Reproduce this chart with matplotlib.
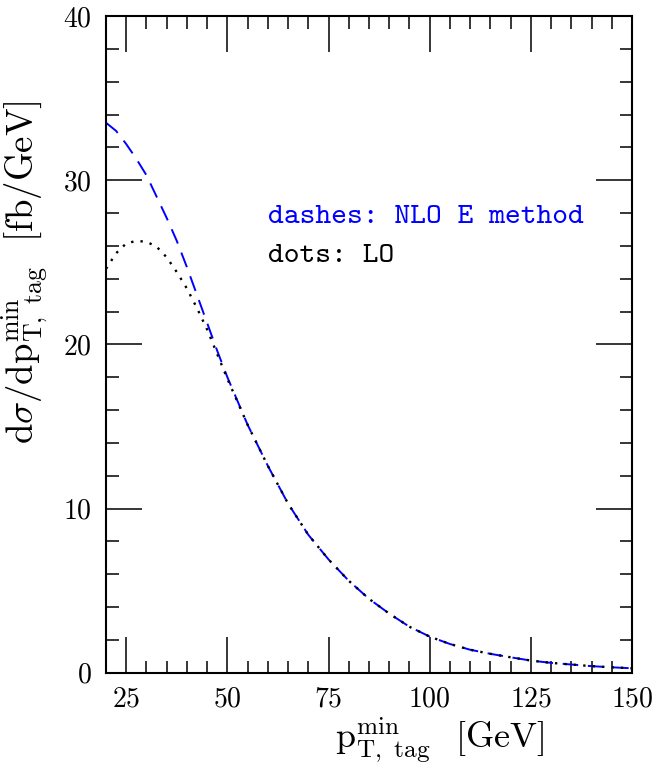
import numpy as np
import matplotlib
matplotlib.use('Agg')
import matplotlib.pyplot as plt
from matplotlib.ticker import MultipleLocator

plt.rcParams['font.family'] = 'cmr10'
plt.rcParams['mathtext.fontset'] = 'cm'
plt.rcParams['axes.formatter.use_mathtext'] = True

# values
pt_nlo = [20, 22.5, 25, 27.5, 30, 32.5, 35, 37.5, 40, 42.5, 45, 47.5, 50,
          55, 60, 65, 70, 75, 80, 85, 90, 95, 100, 105, 110, 115, 120, 125,
          130, 135, 140, 145, 150]
nlo = [33.5, 33.0, 32.2, 31.3, 30.3, 29.0, 27.7, 26.3, 24.7, 23.0, 21.3, 19.6,
       18.0, 15.1, 12.6, 10.3, 8.4, 6.9, 5.6, 4.5, 3.6, 2.8, 2.2, 1.75, 1.4,
       1.15, 0.94, 0.74, 0.6, 0.5, 0.4, 0.33, 0.27]

pt_lo = [20, 22.5, 25, 27.5, 30, 32.5, 35, 37.5, 40, 42.5, 45, 47.5, 50,
         55, 60, 65, 70, 75, 80, 85, 90, 95, 100, 105, 110, 115, 120, 125,
         130, 135, 140, 145, 150]
lo = [24.6, 25.55, 26.15, 26.3, 26.25, 25.95, 25.3, 24.4, 23.4, 22.2, 20.9,
      19.4, 17.9, 15.1, 12.6, 10.3, 8.4, 6.9, 5.6, 4.5, 3.6, 2.8, 2.2, 1.75,
      1.4, 1.15, 0.94, 0.74, 0.6, 0.5, 0.4, 0.33, 0.27]

fig = plt.figure(figsize=(6.6, 7.69), dpi=100)
ax = fig.add_axes([0.1606, 0.1252, 0.797, 0.854])

ax.plot(pt_nlo, nlo, color='blue', lw=1.4, dashes=(8, 5))
ax.plot(pt_lo, lo, color='black', lw=1.7, dashes=(1, 3))

ax.set_xlim(20, 150)
ax.set_ylim(0, 40)
ax.xaxis.set_major_locator(MultipleLocator(25))
ax.xaxis.set_minor_locator(MultipleLocator(5))
ax.yaxis.set_major_locator(MultipleLocator(10))
ax.yaxis.set_minor_locator(MultipleLocator(2))
ax.tick_params(which='both', direction='in', top=True, right=True,
               labelsize=20, pad=10, width=1.1)
ax.tick_params(which='major', length=26)
ax.tick_params(which='minor', length=9)
for s in ax.spines.values():
    s.set_linewidth(1.5)

ax.set_xlabel(r'$\mathrm{p}^{\mathrm{min}}_{\mathrm{T,\ tag}}$  [GeV]', fontsize=26)
ax.xaxis.set_label_coords(0.635, -0.066)
ax.set_ylabel(r'$\mathrm{d}\sigma/\mathrm{dp}^{\mathrm{min}}_{\mathrm{T,\ tag}}$  [fb/GeV]',
              fontsize=26.5)
ax.yaxis.set_label_coords(-0.105, 0.61)

ax.text(60, 27.4, 'dashes: NLO E method', color='blue', family='cmtt10', fontsize=21.7)
ax.text(60, 25.0, 'dots: LO', color='black', family='cmtt10', fontsize=21.7)

fig.savefig('out.png', dpi=100)
